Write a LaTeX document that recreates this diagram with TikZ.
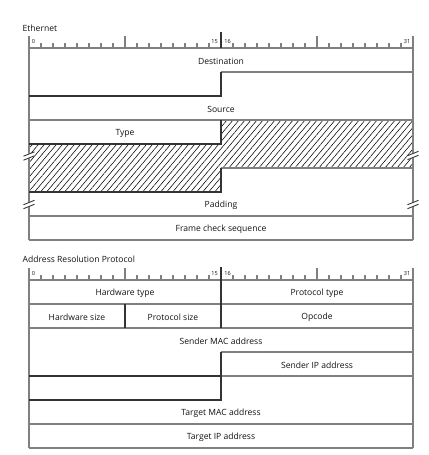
\documentclass[tikz,border=0pt]{standalone}
\usepackage{fontspec}
\setmainfont{Open Sans}
\usetikzlibrary{patterns.meta}
\definecolor{gline}{HTML}{808080}
\definecolor{dline}{HTML}{333333}
\definecolor{txt}{HTML}{111111}
\tikzset{
  gl/.style={draw=gline,line width=1.4bp},
  dl/.style={draw=dline,line width=1.5bp},
  tk/.style={draw=gline,line width=1.2bp},
  lbl/.style={font=\fontsize{8.6}{9}\selectfont,text=txt,inner sep=0pt},
  ttl/.style={font=\fontsize{8.6}{9}\selectfont,text=txt,inner sep=0pt,anchor=west},
  num/.style={font=\fontsize{5.6}{6}\selectfont,text=txt,inner sep=0pt},
  brk/.style={draw=dline,line width=0.9bp},
}
\newcommand{\myruler}[2]{% base y, top of 16 line
  \draw[gl] (29,#1) -- (413,#1);
  \foreach \k in {1,...,7,9,10,...,15,17,18,...,23,25,26,...,31}
    \draw[tk] (29+12*\k,#1-5) -- (29+12*\k,#1);
  \draw[tk] (125,#1-12) -- (125,#1);
  \draw[tk] (317,#1-12) -- (317,#1);
  \node[num] at (33.5,#1-6.5) {0};
  \node[num] at (214.5,#1-6.5) {15};
  \node[num] at (227.5,#1-6.5) {16};
  \node[num] at (407,#1-6.5) {31};
}
\newcommand{\mybreak}[2]{% x, y
  \fill[white] (#1-2.5,#2+3.5) -- (#1+2.5,#2+1.5) -- (#1+2.5,#2-3.5) -- (#1-2.5,#2-1.5) -- cycle;
  \draw[brk] (#1-5.5,#2+0.2) -- (#1+5.5,#2-4.2);
  \draw[brk] (#1-5.5,#2+4.2) -- (#1+5.5,#2-0.2);
}
\begin{document}
\begin{tikzpicture}[x=1bp,y=-1bp]
\useasboundingbox (0,0) rectangle (428,455);
% ---------------- Ethernet ----------------
\node[ttl] (eth) at (22.5,28.5) {Ethernet};
\myruler{48}{32}
\fill[pattern={Lines[angle=50,distance=4.6bp,line width=0.55bp]},pattern color=black]
  (29,144) -- (221,144) -- (221,120) -- (413,120) -- (413,168) -- (221,168) -- (221,192) -- (29,192) -- cycle;
\draw[gl] (29,36) -- (29,240);
\draw[gl] (413,36) -- (413,240);
\draw[gl] (221,72) -- (413,72);
\draw[gl] (29,120) -- (413,120);
\draw[gl] (221,168) -- (413,168);
\draw[gl] (29,216) -- (413,216);
\draw[gl] (29,240) -- (413,240);
\draw[dl] (221,32) -- (221,48);
\draw[dl] (29,96) -- (221,96) -- (221,72);
\draw[dl] (29,144) -- (221,144) -- (221,120);
\draw[dl] (221,168) -- (221,192) -- (29,192);
\mybreak{29}{156}
\mybreak{29}{204.5}
\mybreak{413}{155.5}
\mybreak{413}{204.5}
\node[lbl] (dst) at (221,61.5) {Destination};
\node[lbl] (src) at (221,109.5) {Source};
\node[lbl] (typ) at (125,133) {Type};
\node[lbl] (pad) at (221,205.5) {Padding};
\node[lbl] (fcs) at (221,229) {Frame check sequence};
% ---------------- ARP ----------------
\node[ttl] (arp) at (22.5,259.5) {Address Resolution Protocol};
\myruler{280}{267}
\draw[gl] (29,268) -- (29,448);
\draw[gl] (413,268) -- (413,448);
\draw[gl] (29,304) -- (413,304);
\draw[gl] (29,328) -- (413,328);
\draw[gl] (221,352) -- (413,352);
\draw[gl] (221,376) -- (413,376);
\draw[gl] (29,424) -- (413,424);
\draw[gl] (29,448) -- (413,448);
\draw[dl] (221,267) -- (221,328);
\draw[dl] (125,304) -- (125,328);
\draw[dl] (29,376) -- (221,376);
\draw[dl] (221,352) -- (221,400) -- (29,400);
\node[lbl] (hwt) at (125,293) {Hardware type};
\node[lbl] (prt) at (317,293) {Protocol type};
\node[lbl] (hws) at (77,317) {Hardware size};
\node[lbl] (prs) at (173,317) {Protocol size};
\node[lbl] (opc) at (317,317) {Opcode};
\node[lbl] (smac) at (221,341) {Sender MAC address};
\node[lbl] (sip) at (317,365) {Sender IP address};
\node[lbl] (tmac) at (221,413) {Target MAC address};
\node[lbl] (tip) at (221,437) {Target IP address};
\end{tikzpicture}
\end{document}
